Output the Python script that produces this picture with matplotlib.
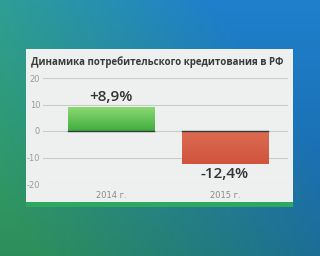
import numpy as np
import matplotlib
matplotlib.use("Agg")
import matplotlib.pyplot as plt
from matplotlib.patches import Rectangle
from matplotlib import font_manager

categories = ["2014 г.", "2015 г."]
values = [8.9, -12.4]
labels = ["+8,9%", "-12,4%"]
yticks = [20, 10, 0, -10, -20]
title = "Динамика потребительского кредитования в РФ"

names = {f.name for f in font_manager.fontManager.ttflist}
title_font = "Liberation Sans Narrow" if "Liberation Sans Narrow" in names else "Open Sans"
title_size = 9.4 if title_font == "Liberation Sans Narrow" else 7.0

W, H = 320, 256
fig = plt.figure(figsize=(W / 100, H / 100), dpi=100)

# background
bg = fig.add_axes([0, 0, 1, 1])
bg.set_axis_off()
xx, yy = np.meshgrid(np.linspace(0, 1, 64), np.linspace(0, 1, 52))
c_green = np.array([0.22, 0.70, 0.45])
c_blue = np.array([0.12, 0.50, 0.80])
t = np.clip(xx * 0.9 + (1 - yy) * 0.5 - 0.1, 0, 1)[..., None]
img = c_green * (1 - t) + c_blue * t
img = img * (0.8 + 0.2 * (1 - yy[..., None]))
bg.imshow(img, extent=[0, 1, 0, 1], aspect="auto", origin="upper")
bg.set_xlim(0, 1); bg.set_ylim(0, 1)

def fx(px):
    return px / W

def fy(py):
    return 1 - py / H

# panel
bg.add_patch(Rectangle((fx(26), fy(202)), fx(293) - fx(26), fy(49) - fy(202),
                       facecolor="#eef0ef", edgecolor="none", zorder=2))
bg.add_patch(Rectangle((fx(26), fy(207)), fx(293) - fx(26), fy(202) - fy(207),
                       facecolor="#2ea860", edgecolor="none", zorder=2))
bg.text(fx(31), fy(62), title, ha="left", va="center", fontsize=title_size,
        fontweight="bold", color="#3a3a3a", family=title_font, zorder=3)

ax = fig.add_axes([fx(43), fy(184), fx(288) - fx(43), fy(78) - fy(184)])
ax.set_facecolor("none")
for v in yticks:
    ax.axhline(v, color="#c8cccb", lw=0.8, zorder=0)
ax.set_yticks(yticks)
ax.set_yticklabels([str(v) for v in yticks])
ax.tick_params(axis="y", length=0, pad=2, labelsize=6, labelcolor="#9a9a9a")
x = np.arange(len(categories))
ax.set_xticks(x)
ax.set_xticklabels(categories)
ax.tick_params(axis="x", length=0, pad=5, labelsize=6, labelcolor="#8a8a8a")
for s in ax.spines.values():
    s.set_visible(False)

bw = 0.76
cmaps = [
    (np.array([0.55, 0.85, 0.45]), np.array([0.25, 0.68, 0.25])),
    (np.array([0.86, 0.42, 0.32]), np.array([0.82, 0.33, 0.24])),
]
for i, v in enumerate(values):
    top, bot = (v, 0) if v > 0 else (0, v)
    c1, c2 = cmaps[i]
    grad = np.linspace(0, 1, 50)[:, None, None]
    g = c1 * (1 - grad) + c2 * grad
    ax.imshow(g, extent=[x[i] - bw / 2, x[i] + bw / 2, bot, top],
              aspect="auto", origin="upper", zorder=2)
    ax.plot([x[i] - bw / 2, x[i] + bw / 2], [0, 0], color="#3a3a3a", lw=1.0, zorder=3)
    if v > 0:
        ax.text(x[i], v + 1.2, labels[i], ha="center", va="bottom", fontsize=11,
                color="#333333", family="Open Sans", fontweight="semibold")
    else:
        ax.text(x[i], v - 1.2, labels[i], ha="center", va="top", fontsize=11,
                color="#333333", family="Open Sans", fontweight="semibold")
ax.set_ylim(-20, 20)
ax.set_xlim(-0.596, 1.553)

fig.savefig("out.png", dpi=100)
